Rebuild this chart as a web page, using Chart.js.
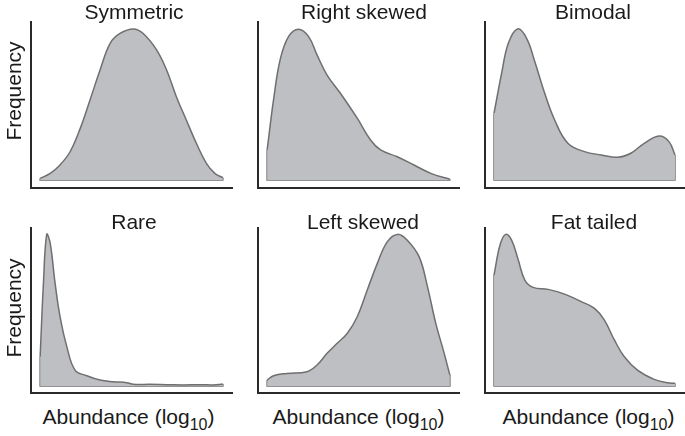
<!DOCTYPE html>
<html>
<head>
<meta charset="utf-8">
<script src="https://cdn.jsdelivr.net/npm/chart.js@4.4.0/dist/chart.umd.min.js"></script>
<style>
  body { margin: 0; background: #fff; }
  #wrap { position: relative; width: 685px; height: 436px; overflow: hidden;
          font-family: "Liberation Sans", Arial, Helvetica, sans-serif; color: #1a1a1a; }
  canvas { position: absolute; }
  .lbl { position: absolute; font-size: 21px; line-height: 21px; white-space: nowrap;
         transform: translate(-50%, -50%); }
  .rot { transform: translate(-50%, -50%) rotate(-90deg); }
  .lbl sub { font-size: 16px; position: relative; top: 6px; vertical-align: baseline; line-height: 0; }
</style>
</head>
<body>
<div id="wrap"></div>
<script>
// panel titles
const titles = ["Symmetric", "Right skewed", "Bimodal", "Rare", "Left skewed", "Fat tailed"];

// abundance position (0-100 across the curve) and relative frequency (peak = 100)
const symmetricX = [0, 5.5, 10.9, 16.4, 21.9, 27.3, 32.8, 38.3, 43.7, 51, 56.4, 63.8, 69.2, 74.6, 80, 85.5, 91, 95.6, 100];
const symmetricY = [1.1, 4.4, 10, 18.7, 34, 53, 72.8, 90.5, 97, 100, 97, 86, 72.8, 55, 39.7, 24.3, 11, 4.4, 1.5];

const rightSkewX = [0, 3.5, 7.1, 11.7, 17.2, 22.7, 27.3, 32.8, 40.1, 49.3, 56.6, 62.1, 71.2, 80.4, 89.6, 100];
const rightSkewY = [19.9, 53, 79.5, 94.9, 99.8, 94.9, 82.8, 69.5, 57.4, 40.9, 26.5, 19.9, 15.4, 9.9, 4.4, 0.5];

const bimodalX = [0, 4.2, 7.9, 13, 18, 22.5, 28, 33.5, 40.8, 50, 59.2, 68.3, 75.6, 83, 91.2, 96.7, 100];
const bimodalY = [44.2, 70.7, 90.5, 100, 93.8, 78.4, 57.4, 39.7, 24.3, 18.8, 16.6, 15, 17.7, 24.3, 29.1, 25.4, 16.6];

const rareX = [0, 1.8, 3.6, 5.5, 8.2, 10.9, 14.6, 19.1, 25.5, 32.8, 40.1, 47.4, 51, 60.1, 69.2, 78.3, 87.4, 94.7, 100];
const rareY = [19.3, 67.5, 99.8, 94, 67.5, 45.6, 25.9, 10.5, 6.8, 3.9, 2.8, 2.2, 1.1, 1.1, 0.9, 0.7, 0.9, 0.7, 1.3];

const leftSkewX = [0, 3.5, 10.8, 21.8, 27.3, 32.8, 38.3, 43.8, 49.3, 54.8, 60.3, 65.8, 71.3, 76.7, 83.2, 87.7, 92.3, 96.9, 100];
const leftSkewY = [3.9, 6.8, 8.3, 9.4, 13.8, 21.5, 28.1, 34.6, 45.6, 63.2, 80.7, 95, 99.8, 96, 85, 65.6, 41.2, 21.5, 7.2];

const fatTailX = [0, 3.3, 6.4, 9.7, 13.4, 17, 21.6, 29.9, 39, 48.2, 55.5, 61, 66.5, 72, 79.3, 88.5, 95.8, 100];
const fatTailY = [73, 92.8, 99.8, 96, 82.9, 69.7, 64.9, 63.6, 60.5, 55.5, 51.1, 43.4, 30.3, 19.3, 10.5, 4.4, 2.2, 1.8];

const seriesX = [symmetricX, rightSkewX, bimodalX, rareX, leftSkewX, fatTailX];
const seriesY = [symmetricY, rightSkewY, bimodalY, rareY, leftSkewY, fatTailY];

// layout: plot boxes in page pixels
const colLeft = [31, 258, 485];
const colRight = [232, 459, 684];
const rowTop = [22, 228];
const rowBottom = [188, 393];
const rowYMin = [-5.3, -4.6];
const rowYMax = [104.6, 104];

const FILL = "#bebfc3";
const EDGE = "#6f6f6f";
const AXIS = "#2a2a2a";
const PAD = 10;

const wrap = document.getElementById("wrap");

function addLabel(html, x, y, cls) {
    const d = document.createElement("div");
    d.className = "lbl" + (cls ? " " + cls : "");
    d.innerHTML = html;
    d.style.left = x + "px";
    d.style.top = y + "px";
    wrap.appendChild(d);
}

titles.forEach((title, i) => {
    const col = i % 3, row = Math.floor(i / 3);
    const w = colRight[col] - colLeft[col], h = rowBottom[row] - rowTop[row];

    const canvas = document.createElement("canvas");
    canvas.width = w + PAD * 2;
    canvas.height = h + PAD * 2;
    canvas.style.left = (colLeft[col] - PAD) + "px";
    canvas.style.top = (rowTop[row] - PAD) + "px";
    wrap.appendChild(canvas);

    const xs = seriesX[i], ys = seriesY[i];
    const curve = xs.map((x, k) => ({ x: x, y: ys[k] }));
    // straight edges: left side, baseline, right side
    const edge = [
        { x: xs[0], y: ys[0] }, { x: xs[0], y: 0 },
        { x: xs[xs.length - 1], y: 0 }, { x: xs[xs.length - 1], y: ys[ys.length - 1] }
    ];

    new Chart(canvas.getContext("2d"), {
        type: "scatter",
        data: {
            datasets: [
                {
                    data: curve,
                    showLine: true,
                    tension: 0.4,
                    fill: "origin",
                    backgroundColor: FILL,
                    borderColor: EDGE,
                    borderWidth: 1.5,
                    pointRadius: 0,
                },
                {
                    data: edge,
                    showLine: true,
                    tension: 0,
                    fill: false,
                    borderColor: EDGE,
                    borderWidth: 1.5,
                    pointRadius: 0,
                }
            ]
        },
        options: {
            responsive: false,
            animation: false,
            layout: { padding: PAD },
            plugins: { legend: { display: false }, tooltip: { enabled: false }, title: { display: false } },
            scales: {
                x: {
                    type: "linear", min: -5, max: 105,
                    grid: { display: false },
                    ticks: { display: false },
                    border: { display: true, color: AXIS, width: 2 },
                    afterFit: (s) => { s.height = 0; }
                },
                y: {
                    type: "linear", min: rowYMin[row], max: rowYMax[row],
                    grid: { display: false },
                    ticks: { display: false },
                    border: { display: true, color: AXIS, width: 2 },
                    afterFit: (s) => { s.width = 0; }
                }
            }
        }
    });
});

// text
const titleX = [134, 364, 593, 134, 363, 594];
const titleY = [11.4, 11.4, 11.4, 220.5, 220.5, 220.5];
titles.forEach((t, i) => addLabel(t, titleX[i], titleY[i]));

addLabel("Frequency", 13, 91, "rot");
addLabel("Frequency", 13, 308, "rot");

const xLabelX = [128.5, 358.5, 588.5];
xLabelX.forEach(x => addLabel("Abundance (log<sub>10</sub>)", x, 416.3));
</script>
</body>
</html>
